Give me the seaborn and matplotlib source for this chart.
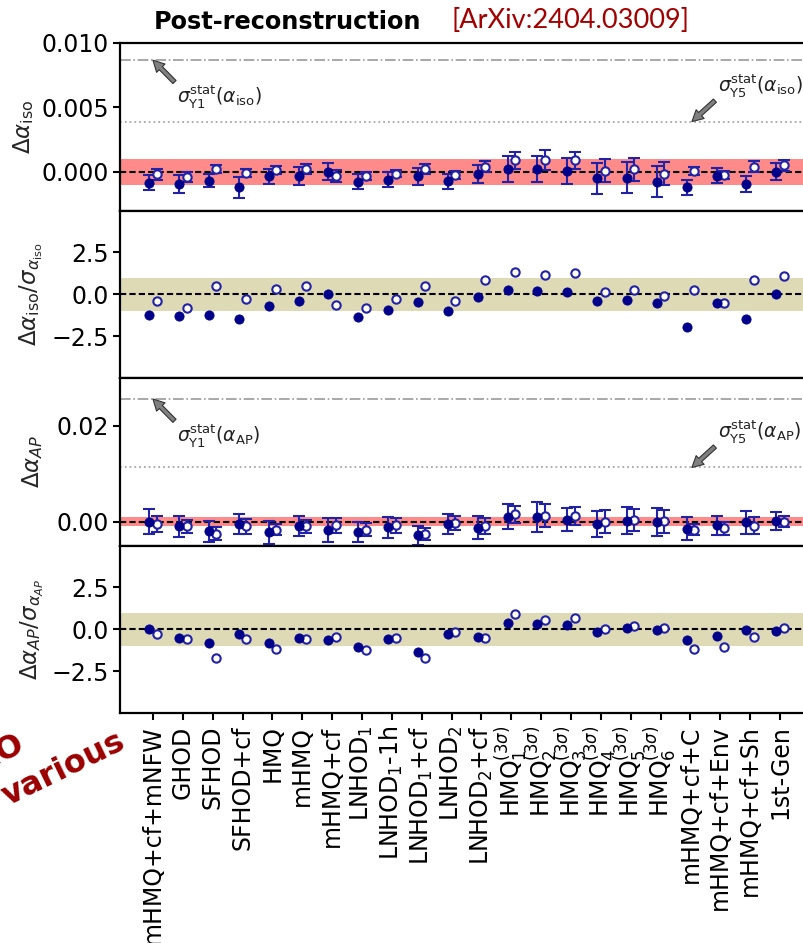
import numpy as np
import pandas as pd
import matplotlib
matplotlib.use("Agg")
import matplotlib.pyplot as plt
import seaborn as sns

# ---------------- data ----------------
categories = ["mHMQ+cf+mNFW", "GHOD", "SFHOD", "SFHOD+cf", "HMQ", "mHMQ", "mHMQ+cf",
              r"LNHOD$_1$", r"LNHOD$_1$-1h", r"LNHOD$_1$+cf", r"LNHOD$_2$", r"LNHOD$_2$+cf",
              r"HMQ$_1^{(3\sigma)}$", r"HMQ$_2^{(3\sigma)}$", r"HMQ$_3^{(3\sigma)}$",
              r"HMQ$_4^{(3\sigma)}$", r"HMQ$_5^{(3\sigma)}$", r"HMQ$_6^{(3\sigma)}$",
              "mHMQ+cf+C", "mHMQ+cf+Env", "mHMQ+cf+Sh", "1st-Gen"]

iso_filled = [-0.00083, -0.00095, -0.0007, -0.0012, -0.00036, -0.0003, 0.0, -0.00077, -0.0006, -0.00034,
              -0.00073, -0.00013, 0.0002, 0.0002, 0.00008, -0.0005, -0.00044, -0.00075, -0.0012, -0.0003,
              -0.00093, 0.0]
iso_filled_err = [0.0006, 0.0007, 0.0005, 0.0008, 0.0006, 0.0007, 0.00065, 0.00057, 0.0006, 0.00065,
                  0.0006, 0.0007, 0.001, 0.001, 0.001, 0.0012, 0.0012, 0.0012, 0.0006, 0.0006, 0.0006, 0.00065]
iso_open = [-0.0002, -0.0004, 0.00023, -0.0001, 0.00013, 0.00023, -0.0003, -0.0003, -0.00013, 0.0002,
            -0.00022, 0.0004, 0.0009, 0.00093, 0.0009, 0.0001, 0.0002, -0.00013, 0.00008, -0.00023,
            0.0004, 0.0005]
iso_open_err = [0.0004, 0.0004, 0.0003, 0.0003, 0.0003, 0.0004, 0.00045, 0.0003, 0.0003, 0.0004,
                0.0003, 0.00045, 0.00065, 0.00075, 0.00065, 0.0009, 0.00088, 0.0009, 0.0003, 0.0003,
                0.00045, 0.0004]

iso_sig_filled = [-1.25, -1.27, -1.25, -1.47, -0.71, -0.42, 0.0, -1.37, -0.97, -0.46, -0.99, -0.16,
                  0.24, 0.22, 0.12, -0.40, -0.34, -0.55, -1.96, -0.50, -1.49, 0.02]
iso_sig_open = [-0.42, -0.81, 0.51, -0.26, 0.30, 0.50, -0.63, -0.81, -0.26, 0.51, -0.42, 0.83,
                1.31, 1.15, 1.27, 0.16, 0.26, -0.10, 0.28, -0.55, 0.83, 1.09]

ap_filled = [0.0, -0.001, -0.002, -0.0005, -0.0022, -0.001, -0.0017, -0.0022, -0.0012, -0.0029,
             -0.0006, -0.0013, 0.001, 0.0009, 0.0004, -0.0005, 0.0002, -0.0001, -0.0015, -0.0008,
             -0.0001, 0.0001]
ap_filled_err = [0.0026, 0.0022, 0.0022, 0.0021, 0.0024, 0.0021, 0.0025, 0.0021, 0.0022, 0.002,
                 0.0021, 0.0024, 0.0026, 0.0031, 0.0024, 0.0028, 0.0028, 0.003, 0.0024, 0.002,
                 0.0024, 0.0019]
ap_open = [-0.0005, -0.001, -0.0025, -0.001, -0.0017, -0.001, -0.0008, -0.0017, -0.0008, -0.0026,
           -0.0003, -0.001, 0.0015, 0.0012, 0.0012, 0.0, 0.0003, 0.0001, -0.0017, -0.0014,
           -0.0009, 0.0]
ap_open_err = [0.0017, 0.0014, 0.0014, 0.0016, 0.0012, 0.0014, 0.0015, 0.0013, 0.0015, 0.0012,
               0.0015, 0.0017, 0.0018, 0.0024, 0.0019, 0.0024, 0.0023, 0.0024, 0.0012, 0.0014,
               0.0018, 0.0012]

ap_sig_filled = [0.0, -0.55, -0.83, -0.26, -0.83, -0.55, -0.67, -1.03, -0.59, -1.35, -0.30, -0.48,
                 0.40, 0.30, 0.26, -0.16, 0.06, -0.04, -0.63, -0.40, -0.04, -0.08]
ap_sig_open = [-0.28, -0.59, -1.74, -0.57, -1.15, -0.59, -0.48, -1.23, -0.51, -1.74, -0.14, -0.51,
               0.91, 0.57, 0.69, 0.0, 0.20, 0.10, -1.15, -1.07, -0.46, 0.10]

sigma_stat_iso = {"Y1": 0.00866, "Y5": 0.0039}
sigma_stat_ap = {"Y1": 0.0256, "Y5": 0.0113}

# ---------------- style ----------------
sns.set_theme(style="ticks")
plt.rcParams["font.family"] = ["DejaVu Sans"]
plt.rcParams["mathtext.fontset"] = "dejavusans"

W, H = 804, 943
fig = plt.figure(figsize=(W / 100, H / 100), dpi=100)

FILLED = "#00008b"
EDGE = "#2222a6"
TICKFS = 17

left_px, right_px, top_px, bot_px = 120, 813, 43, 713
ph = (bot_px - top_px) / 4
axes = []
for k in range(4):
    t = top_px + k * ph
    ax = fig.add_axes([left_px / W, 1 - (t + ph) / H, (right_px - left_px) / W, ph / H])
    axes.append(ax)

n = len(categories)
xpos = np.arange(n)
off = 0.125


def draw_points(ax, yf, yo, ef=None, eo=None):
    if ef is not None:
        ax.errorbar(xpos - off, yf, yerr=ef, fmt="none", ecolor=EDGE, elinewidth=1.5,
                    capsize=4.4, capthick=1.5, zorder=3)
        ax.errorbar(xpos + off, yo, yerr=eo, fmt="none", ecolor=EDGE, elinewidth=1.5,
                    capsize=4.4, capthick=1.5, zorder=3)
    df_f = pd.DataFrame({"x": xpos - off, "y": yf})
    df_o = pd.DataFrame({"x": xpos + off, "y": yo})
    sns.scatterplot(data=df_f, x="x", y="y", ax=ax, s=44, color=FILLED, edgecolor=FILLED,
                    linewidth=0.6, zorder=5, legend=False)
    sns.scatterplot(data=df_o, x="x", y="y", ax=ax, s=36, facecolor="white", edgecolor=EDGE,
                    linewidth=1.5, zorder=4, legend=False)


# panel 1
ax = axes[0]
ax.axhspan(-0.001, 0.001, color="#ff8a8a", lw=0, zorder=1)
ax.axhline(sigma_stat_iso["Y1"], color="#9a9a9a", ls="-.", lw=1.2, zorder=1)
ax.axhline(sigma_stat_iso["Y5"], color="#a8a8a8", ls=":", lw=1.3, zorder=1)
draw_points(ax, iso_filled, iso_open, iso_filled_err, iso_open_err)
ax.set_ylim(-0.003, 0.010)
ax.set_yticks([0.0, 0.005, 0.010])
ax.set_yticklabels(["0.000", "0.005", "0.010"])

# panel 2
ax = axes[1]
ax.axhspan(-1, 1, color="#dedab6", lw=0, zorder=1)
draw_points(ax, iso_sig_filled, iso_sig_open)
ax.set_ylim(-5, 5)
ax.set_yticks([-2.5, 0.0, 2.5])

# panel 3
ax = axes[2]
ax.axhspan(-0.001, 0.001, color="#ff8a8a", lw=0, zorder=1)
ax.axhline(sigma_stat_ap["Y1"], color="#9a9a9a", ls="-.", lw=1.2, zorder=1)
ax.axhline(sigma_stat_ap["Y5"], color="#a8a8a8", ls=":", lw=1.3, zorder=1)
draw_points(ax, ap_filled, ap_open, ap_filled_err, ap_open_err)
ax.set_ylim(-0.005, 0.03)
ax.set_yticks([0.0, 0.02])
ax.set_yticklabels(["0.00", "0.02"])

# panel 4
ax = axes[3]
ax.axhspan(-1, 1, color="#dedab6", lw=0, zorder=1)
draw_points(ax, ap_sig_filled, ap_sig_open)
ax.set_ylim(-5, 5)
ax.set_yticks([-2.5, 0.0, 2.5])

ylabels = [r"$\Delta\alpha_{\rm iso}$",
           r"$\Delta\alpha_{\rm iso}/\sigma_{\alpha_{\rm iso}}$",
           r"$\Delta\alpha_{AP}$",
           r"$\Delta\alpha_{AP}/\sigma_{\alpha_{AP}}$"]
label_right_px = [36, 45, 45, 46]

for k, ax in enumerate(axes):
    ax.axhline(0, color="black", ls=(0, (3, 1.5)), lw=1.5, zorder=2)
    ax.set_xlim(-1.105, n - 1 + 1.105)
    for sp in ax.spines.values():
        sp.set_linewidth(1.6)
        sp.set_color("black")
    ax.tick_params(axis="y", direction="out", length=5, width=1.5, labelsize=TICKFS,
                   colors="black", pad=3)
    ax.set_xlabel("")
    ax.set_ylabel(ylabels[k], fontsize=16.5)
    ax.yaxis.set_label_coords((label_right_px[k] - left_px) / (right_px - left_px), 0.5)
    if k < 3:
        ax.set_xticks([])
        ax.tick_params(axis="x", bottom=False, labelbottom=False)

ax = axes[3]
ax.set_xticks(xpos)
ax.set_xticklabels(categories, rotation=90, fontsize=TICKFS)
ax.tick_params(axis="x", direction="out", length=5, width=1.5, colors="black", pad=4)

# annotations
arrow_kw = dict(facecolor="#808080", edgecolor="#333333", width=3.2, headwidth=8.5,
                headlength=8, shrink=0.0, lw=0.8)
for ax, sig, sub in [(axes[0], sigma_stat_iso, r"{\rm iso}"), (axes[2], sigma_stat_ap, r"{\rm AP}")]:
    y0 = sig["Y1"]; y5 = sig["Y5"]
    lo, hi = ax.get_ylim()
    span = hi - lo
    ax.annotate("", xy=(0.0, y0), xytext=(0.72, y0 - 0.13 * span), arrowprops=arrow_kw, zorder=6)
    ax.text(0.8, y0 - 0.215 * span, r"$\sigma^{\rm stat}_{\rm Y1}(\alpha_%s)$" % sub,
            fontsize=13.5, color="#222222", ha="left", va="center")
    ax.annotate("", xy=(18.05, y5), xytext=(18.82, y5 + 0.125 * span), arrowprops=arrow_kw, zorder=6)
    ax.text(18.92, y5 + 0.215 * span, r"$\sigma^{\rm stat}_{\rm Y5}(\alpha_%s)$" % sub,
            fontsize=13.5, color="#222222", ha="left", va="center")

# header texts
fig.text(154 / W, 1 - 22 / H, "Post-reconstruction", fontsize=17.3, fontweight="bold",
         color="black", ha="left", va="center")
fig.text(452 / W, 1 - 20 / H, "[ArXiv:2404.03009]", fontsize=19.5, family=["Lato", "DejaVu Sans"],
         color="#a30000", ha="left", va="center")

# slide overlay text at bottom left
fig.text(26 / W, 1 - 750 / H, "BAO", fontsize=23, fontweight="bold", color="#9b0000",
         rotation=26, rotation_mode="anchor", ha="right", va="baseline")
fig.text(8 / W, 1 - 806 / H, "various", fontsize=23, fontweight="bold", color="#9b0000",
         rotation=26, rotation_mode="anchor", ha="left", va="baseline")

fig.savefig("out.png", dpi=100)
